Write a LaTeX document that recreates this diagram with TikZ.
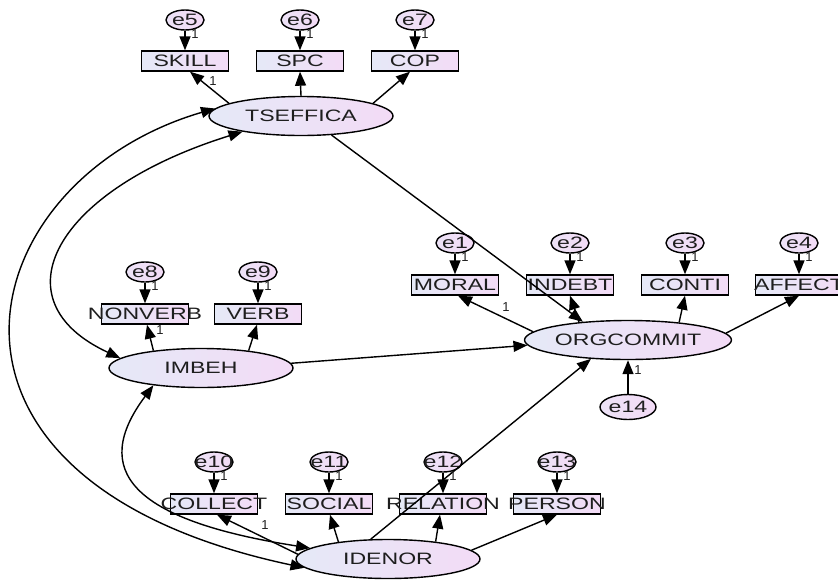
\documentclass[tikz,border=0pt]{standalone}
\usepackage{fontspec}
\newfontfamily\amos[FakeStretch=1.4]{Liberation Sans}
\newfontfamily\amoslab{Liberation Sans}
\usetikzlibrary{arrows.meta,shapes.geometric}
\definecolor{lblue}{RGB}{229,233,247}
\definecolor{lpink}{RGB}{243,219,246}
\definecolor{txt}{RGB}{30,30,30}
\newcommand{\ovr}[1]{\makebox[0pt][c]{#1}}
\begin{document}
\begin{tikzpicture}[x=1pt,y=-1pt,
 lat/.style={ellipse,draw=black,line width=1.4pt,minimum width=184pt,minimum height=39pt,inner sep=0pt,left color=lblue,right color=lpink,text=txt,font=\amos\fontsize{16.5}{18}\selectfont},
 obs/.style={rectangle,draw=black,line width=1.4pt,minimum width=87pt,minimum height=20pt,inner sep=0pt,left color=lblue,right color=lpink,text=txt,font=\amos\fontsize{16.5}{18}\selectfont},
 err/.style={ellipse,draw=black,line width=1.4pt,minimum width=38pt,minimum height=20pt,inner sep=0pt,left color=lblue!50!lpink,right color=lpink,text=txt,font=\amos\fontsize{16.5}{18}\selectfont},
 one/.style={font=\amoslab\fontsize{13}{15}\selectfont,text=txt,inner sep=0pt},
 arr/.style={line width=1.4pt,-{Triangle[length=14pt,width=11pt]}},
 cov/.style={line width=1.4pt,{Triangle[length=14pt,width=11pt]}-{Triangle[length=14pt,width=11pt]}},
]
\useasboundingbox (0,0) rectangle (838,579);
% latent variables
\node[lat] (tse) at (301,116) {TSEFFICA};
\node[lat] (imb) at (201,368) {IMBEH};
\node[lat] (org) at (628,340) {ORGCOMMIT};
\node[lat] (idn) at (388,559) {IDENOR};
% indicators of TSEFFICA
\node[obs] (skill) at (185,61) {\ovr{SKILL}};
\node[obs] (spc) at (300,61) {\ovr{SPC}};
\node[obs] (cop) at (415,61) {\ovr{COP}};
\node[err] (e5) at (185,20) {\ovr{e5}};
\node[err] (e6) at (300,20) {\ovr{e6}};
\node[err] (e7) at (415,20) {\ovr{e7}};
% indicators of ORGCOMMIT
\node[obs] (moral) at (455,285) {\ovr{MORAL}};
\node[obs] (indebt) at (570,285) {\ovr{INDEBT}};
\node[obs] (conti) at (685,285) {\ovr{CONTI}};
\node[obs] (affect) at (799,285) {\ovr{AFFECT}};
\node[err] (e1) at (455,243) {\ovr{e1}};
\node[err] (e2) at (570,243) {\ovr{e2}};
\node[err] (e3) at (685,243) {\ovr{e3}};
\node[err] (e4) at (799,243) {\ovr{e4}};
% indicators of IMBEH
\node[obs] (nonverb) at (145,314) {\ovr{NONVERB}};
\node[obs] (verb) at (258,314) {\ovr{VERB}};
\node[err] (e8) at (145,272) {\ovr{e8}};
\node[err] (e9) at (258,272) {\ovr{e9}};
% indicators of IDENOR
\node[obs] (collect) at (214,504) {\ovr{COLLECT}};
\node[obs] (social) at (329,504) {\ovr{SOCIAL}};
\node[obs] (relation) at (443,504) {\ovr{RELATION}};
\node[obs] (person) at (557,504) {\ovr{PERSON}};
\node[err] (e10) at (214,462) {\ovr{e10}};
\node[err] (e11) at (329,462) {\ovr{e11}};
\node[err] (e12) at (443,462) {\ovr{e12}};
\node[err] (e13) at (557,462) {\ovr{e13}};
% disturbance
\node[err,minimum width=56pt,minimum height=25pt] (e14) at (628,407) {\ovr{e14}};
% error arrows
\foreach \e/\b in {e5/skill,e6/spc,e7/cop,e1/moral,e2/indebt,e3/conti,e4/affect,e8/nonverb,e9/verb,e10/collect,e11/social,e12/relation,e13/person}{
  \draw[arr] (\e) -- (\b);
}
\draw[arr] (e14) -- (org);
% loadings
\draw[arr] (tse.170) -- ([xshift=5pt]skill.south);
\draw[arr] (tse.north) -- (spc.south);
\draw[arr] (tse.10) -- ([xshift=-5pt]cop.south);
\draw[arr] (imb.160) -- ([xshift=2pt]nonverb.south);
\draw[arr] (imb.20) -- ([xshift=-1pt]verb.south);
\draw[arr] (org.175) -- ([xshift=3pt]moral.south);
\draw[arr] (org.160) -- (indebt.south);
\draw[arr] (org.19) -- (conti.south);
\draw[arr] (org.4) -- (affect.south);
\draw[arr] (idn.177) -- ([xshift=3pt]collect.south);
\draw[arr] (idn.161) -- ([xshift=1pt]social.south);
\draw[arr] (idn.20) -- ([xshift=-3pt]relation.south);
\draw[arr] (idn.6) -- (person.south);
% structural paths
\draw[arr] (tse.328) -- (org.158);
\draw[arr] (imb.3) -- (org.183);
\draw[arr] (idn.131) -- (org.207);
% covariances
\draw[cov] (tse.195) .. controls (55,190) and (-5,300) .. (imb.173);
\draw[cov] (tse.175) .. controls (-30,180) and (-110,480) .. (idn.186);
\draw[cov] (imb.200) .. controls (90,470) and (130,520) .. (idn.172);
% labels "1"
\foreach \p in {(195,34),(310,34),(425,34),(465,257),(580,257),(695,257),(809,257),(155,286),(268,286),(224,476),(339,476),(453,476),(567,476),(213,81),(160,330),(506,307),(265,525),(638,370)}{
  \node[one] at \p {1};
}
\end{tikzpicture}
\end{document}
